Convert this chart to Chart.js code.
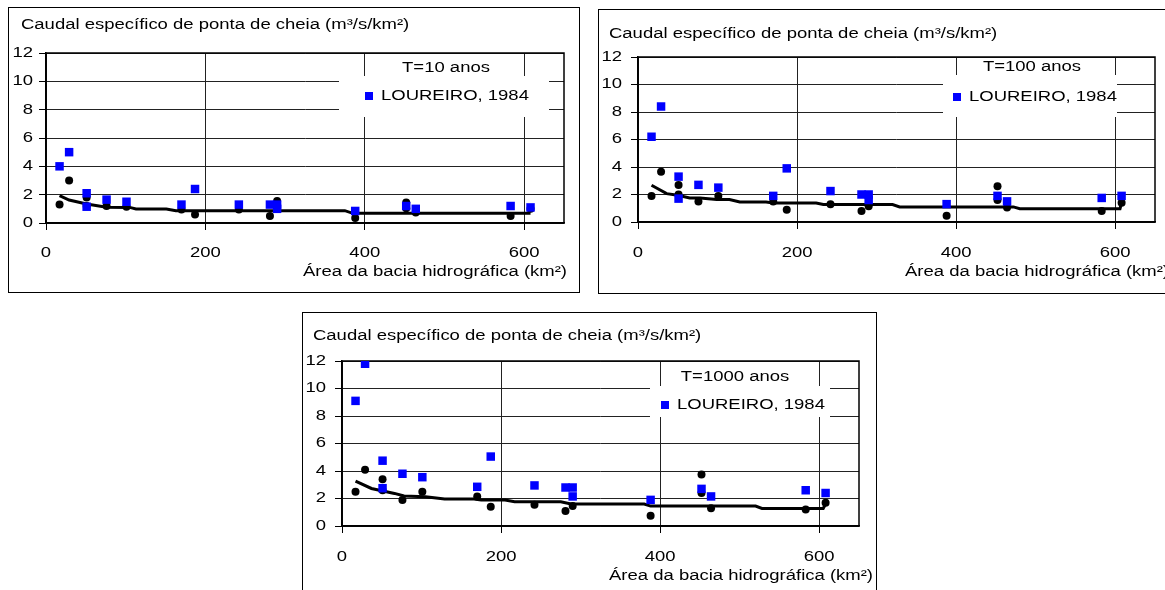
<!DOCTYPE html>
<html>
<head>
<meta charset="utf-8">
<script src="https://cdn.jsdelivr.net/npm/chart.js@4.4.1/dist/chart.umd.min.js"></script>
<style>
  body { margin: 0; background: #fff; width: 1165px; height: 590px; overflow: hidden; position: relative; }
  .panel { position: absolute; border: 1px solid #000; background: #fff; }
  .panel canvas { display: block; }
</style>
</head>
<body>
<div class="panel" style="left:8px;top:7px"><canvas id="t10" width="570" height="284"></canvas></div>
<div class="panel" style="left:598px;top:9px"><canvas id="t100" width="570" height="283"></canvas></div>
<div class="panel" style="left:302px;top:312px"><canvas id="t1000" width="573" height="284"></canvas></div>
<script>
// drainage basin area (km2) of each station
const areas = [17, 29, 51, 51, 76, 101, 170, 187, 242, 281, 290, 290, 388, 452, 452, 464, 583, 608];

// specific peak discharge (m3/s/km2)
const loureiro10 = [4.0, 5.0, 2.1, 1.15, 1.65, 1.5, 1.3, 2.4, 1.3, 1.3, 1.3, 1.0, 0.85, 1.2, null, 1.0, 1.2, 1.1];
const estudo10 = [1.3, 3.0, 1.8, 1.2, 1.2, 1.15, 0.95, 0.6, 0.95, 0.5, 1.55, null, 0.35, 1.45, 1.05, 0.75, 0.5, 1.0];
const loureiro100 = [6.2, 8.4, 3.3, 1.7, 2.7, 2.5, 1.9, 3.9, 2.25, 2.0, 2.0, 1.6, 1.3, 1.9, null, 1.5, 1.75, 1.9];
const estudo100 = [1.9, 3.65, 2.7, 2.0, 1.5, 1.9, 1.5, 0.9, 1.3, 0.8, 1.15, null, 0.45, 2.6, 1.6, 1.05, 0.8, 1.4];
const loureiro1000 = [9.1, 11.8, 4.75, 2.75, 3.8, 3.55, 2.85, 5.05, 2.95, 2.8, 2.8, 2.15, 1.9, 2.7, null, 2.15, 2.6, 2.4];
const estudo1000 = [2.5, 4.1, 3.4, 2.6, 1.9, 2.5, 2.15, 1.4, 1.55, 1.1, 1.45, null, 0.75, 3.75, 2.4, 1.3, 1.2, 1.7];

// regional curves
const curve10X = [17, 29, 51, 76, 105, 113, 151, 163, 375, 385, 608];
const curve10Y = [1.93, 1.62, 1.34, 1.12, 1.1, 0.99, 0.99, 0.87, 0.87, 0.68, 0.68];
const curve100X = [17, 36, 50, 65, 78, 99, 115, 128, 161, 170, 224, 233, 320, 329, 472, 480, 606, 608];
const curve100Y = [2.67, 2.06, 1.94, 1.75, 1.75, 1.63, 1.63, 1.45, 1.45, 1.38, 1.38, 1.27, 1.27, 1.1, 1.1, 0.97, 0.97, 1.4];
const curve1000X = [17, 37, 66, 78, 105, 129, 166, 175, 205, 217, 275, 288, 380, 388, 520, 528, 605, 608];
const curve1000Y = [3.27, 2.73, 2.37, 2.18, 2.13, 1.96, 1.96, 1.89, 1.89, 1.77, 1.77, 1.6, 1.6, 1.45, 1.45, 1.28, 1.28, 1.6];

const yTicks = [0, 2, 4, 6, 8, 10, 12];
const xTicks = [0, 200, 400, 600];

const heading = 'Caudal específico de ponta de cheia (m³/s/km²)';
const xTitle = 'Área da bacia hidrográfica (km²)';

const FONT = '"Liberation Sans", Arial, sans-serif';
const STRETCH = 1.32; // the original text is wide

Chart.defaults.font.family = FONT;
Chart.defaults.font.size = 14;
Chart.defaults.color = '#000';

// draw every text a bit wider, like the source picture
const wideText = {
  id: 'wideText',
  beforeInit(chart) {
    const ctx = chart.ctx;
    const fill = ctx.fillText.bind(ctx);
    const measure = ctx.measureText.bind(ctx);
    ctx.fillText = function (text, x, y) {
      ctx.save();
      ctx.translate(x, y);
      ctx.scale(STRETCH, 1);
      fill(text, 0, 0);
      ctx.restore();
    };
    ctx.measureText = function (text) {
      const m = measure(text);
      return {
        width: m.width * STRETCH,
        actualBoundingBoxAscent: m.actualBoundingBoxAscent,
        actualBoundingBoxDescent: m.actualBoundingBoxDescent
      };
    };
  }
};

const panelText = {
  id: 'panelText',
  beforeDatasetsDraw(chart) {
    const { ctx, chartArea: a } = chart;
    ctx.save();
    ctx.strokeStyle = '#000';
    ctx.lineWidth = 1.5;
    ctx.strokeRect(a.left, a.top, a.right - a.left, a.bottom - a.top);
    ctx.restore();
  },
  afterDraw(chart, args, opts) {
    const ctx = chart.ctx;
    const lg = opts.legend;
    const ds = chart.data.datasets[0];
    ctx.save();
    ctx.font = '14px ' + FONT;
    ctx.textBaseline = 'middle';
    ctx.fillStyle = '#000';
    ctx.textAlign = 'left';
    ctx.fillText(opts.heading, opts.headX, opts.headY);
    ctx.textAlign = 'right';
    ctx.fillText(opts.xTitle, opts.xTitleX, opts.xTitleY);

    ctx.fillStyle = '#fff';
    ctx.fillRect(lg.x, lg.y, lg.w, lg.h);
    ctx.fillStyle = '#000';
    ctx.textAlign = 'center';
    ctx.fillText(lg.title, lg.titleX, lg.titleY);
    ctx.fillStyle = ds.backgroundColor;
    ctx.fillRect(lg.markX - 4, lg.markY - 4, 8, 8);
    ctx.fillStyle = '#000';
    ctx.textAlign = 'left';
    ctx.fillText(ds.label, lg.textX, lg.markY);
    ctx.restore();
  }
};

function points(xs, ys) {
  return xs.map((x, i) => ({ x: x, y: ys[i] })).filter(p => p.y !== null);
}

function makeChart(id, blue, black, cx, cy, title, g) {
  const gridStyle = { color: '#222', lineWidth: 1, tickLength: 7, tickColor: '#000' };
  return new Chart(document.getElementById(id), {
    type: 'scatter',
    data: {
      datasets: [
        {
          label: 'LOUREIRO, 1984',
          data: points(areas, blue),
          pointStyle: 'rect',
          pointRadius: 6,
          backgroundColor: '#0000ff',
          borderColor: '#0000ff',
          borderWidth: 0,
          order: 1
        },
        {
          label: 'estações',
          data: points(areas, black),
          pointStyle: 'circle',
          pointRadius: 4,
          backgroundColor: '#000',
          borderColor: '#000',
          borderWidth: 0,
          order: 2
        },
        {
          label: 'curva regional',
          data: points(cx, cy),
          showLine: true,
          borderColor: '#000',
          borderWidth: 3,
          pointRadius: 0,
          order: 3
        }
      ]
    },
    options: {
      responsive: false,
      animation: false,
      events: [],
      layout: { padding: { left: 3, top: g.top, right: g.right, bottom: 0 } },
      plugins: {
        legend: { display: false },
        tooltip: { enabled: false },
        panelText: {
          heading: heading,
          headX: g.headX,
          headY: g.headY,
          xTitle: xTitle,
          xTitleX: g.xTitleX,
          xTitleY: g.xTitleY,
          legend: Object.assign({ title: title }, g.legend)
        }
      },
      scales: {
        x: {
          type: 'linear',
          min: 0,
          max: 650,
          afterBuildTicks(s) { s.ticks = xTicks.map(v => ({ value: v })); },
          ticks: { padding: g.xPad, maxRotation: 0 },
          grid: gridStyle,
          border: { color: '#000', width: 1.5 },
          afterFit(s) { s.height = g.xHeight; }
        },
        y: {
          min: 0,
          max: 12,
          afterBuildTicks(s) { s.ticks = yTicks.map(v => ({ value: v })); },
          ticks: { padding: g.yPad },
          grid: gridStyle,
          border: { color: '#000', width: 1.5 },
          afterFit(s) { s.width = g.yWidth; }
        }
      }
    },
    plugins: [wideText, panelText]
  });
}

makeChart('t10', loureiro10, estudo10, curve10X, curve10Y, 'T=10 anos', {
  top: 45, right: 15, yWidth: 34, yPad: 6, xHeight: 69, xPad: 15,
  headX: 12, headY: 17, xTitleX: 558, xTitleY: 264,
  legend: { x: 330, y: 68, w: 210, h: 41, titleX: 437, titleY: 60, markX: 360, markY: 88, textX: 372 }
});

makeChart('t100', loureiro100, estudo100, curve100X, curve100Y, 'T=100 anos', {
  top: 47, right: 14, yWidth: 36, yPad: 9, xHeight: 71, xPad: 16,
  headX: 10, headY: 24, xTitleX: 570, xTitleY: 262,
  legend: { x: 344, y: 65, w: 174, h: 42, titleX: 433, titleY: 57, markX: 358, markY: 87, textX: 370 }
});

makeChart('t1000', loureiro1000, estudo1000, curve1000X, curve1000Y, 'T=1000 anos', {
  top: 48, right: 17, yWidth: 36, yPad: 9, xHeight: 71, xPad: 16,
  headX: 10, headY: 23, xTitleX: 570, xTitleY: 263,
  legend: { x: 347, y: 73, w: 180, h: 31, titleX: 432, titleY: 64, markX: 362, markY: 92, textX: 374 }
});
</script>
</body>
</html>
